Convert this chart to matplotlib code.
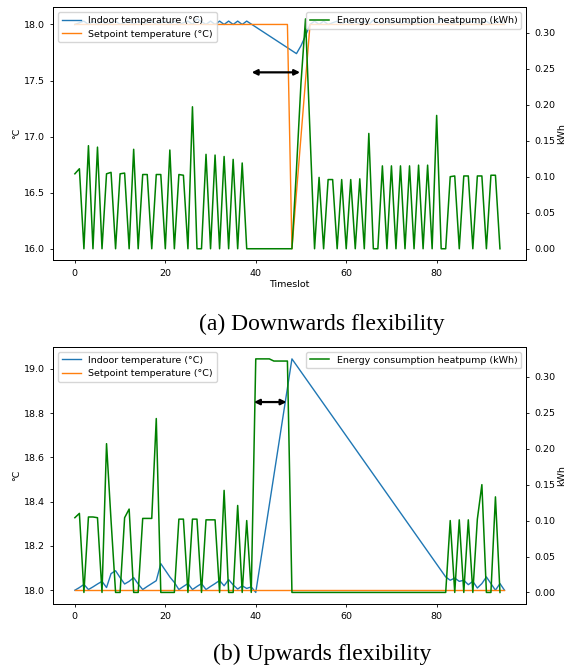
import matplotlib
matplotlib.use("Agg")
import matplotlib.pyplot as plt

# ---- (a) downwards flexibility ----
energy_a = [0.104, 0.111, 0, 0.143, 0, 0.141, 0, 0.104, 0.106, 0,
            0.104, 0.105, 0, 0.138, 0, 0.103, 0.103, 0, 0.103, 0.103,
            0, 0.137, 0, 0.103, 0.102, 0, 0.197, 0, 0, 0.131,
            0, 0.130, 0, 0.128, 0, 0.124, 0, 0.119, 0, 0,
            0, 0, 0, 0, 0, 0, 0, 0, 0, 0.11,
            0.23, 0.319, 0.16, 0, 0.099, 0, 0.096, 0.096, 0, 0.096,
            0, 0.096, 0, 0.097, 0, 0.160, 0, 0, 0.115, 0,
            0.115, 0, 0.115, 0, 0.115, 0, 0.116, 0, 0.116, 0,
            0.185, 0, 0, 0.100, 0.101, 0, 0.101, 0.101, 0, 0.101,
            0.101, 0, 0.102, 0.102, 0]

indoor_a_x = list(range(0, 39)) + [49, 50, 51] + list(range(52, 96))
indoor_a = [18.00, 18.015, 18.03, 18.00, 18.03, 18.00, 18.03, 18.00, 18.015, 18.03,
            18.00, 18.015, 18.03, 18.00, 18.03, 18.00, 18.015, 18.03, 18.00, 18.015,
            18.03, 18.00, 18.03, 18.00, 18.015, 18.03, 18.00, 18.05, 18.025, 18.00,
            18.03, 18.00, 18.03, 18.00, 18.03, 18.00, 18.03, 18.00, 18.03,
            17.74, 17.81, 17.90,
            18.00, 18.03, 18.00, 18.03, 18.00, 18.015, 18.03, 18.00, 18.03, 18.00,
            18.03, 18.00, 18.03, 18.00, 18.04, 18.02, 18.00, 18.03, 18.00, 18.03,
            18.00, 18.03, 18.00, 18.03, 18.00, 18.03, 18.00, 18.03, 18.00, 18.05,
            18.025, 18.00, 18.015, 18.03, 18.00, 18.015, 18.03, 18.00, 18.015, 18.03,
            18.00, 18.015, 18.03, 18.00]

setpoint_a_x = [0, 47, 48, 52, 95]
setpoint_a = [18.0, 18.0, 16.0, 18.0, 18.0]

# ---- (b) upwards flexibility ----
energy_b = [0.104, 0.110, 0, 0.105, 0.105, 0.104, 0, 0.207, 0.10, 0,
            0, 0.104, 0.116, 0, 0, 0.103, 0.103, 0.103, 0.242, 0,
            0, 0, 0, 0.102, 0.102, 0, 0.102, 0.102, 0, 0.101,
            0.101, 0.101, 0, 0.142, 0, 0, 0.121, 0, 0.100, 0,
            0.325, 0.325, 0.325, 0.325, 0.322, 0.322, 0.322, 0.322, 0, 0,
            0, 0, 0, 0, 0, 0, 0, 0, 0, 0,
            0, 0, 0, 0, 0, 0, 0, 0, 0, 0,
            0, 0, 0, 0, 0, 0, 0, 0, 0, 0,
            0, 0, 0, 0.100, 0, 0.101, 0, 0.101, 0, 0.102,
            0.150, 0, 0, 0.133, 0]

indoor_b_x = list(range(0, 41)) + [48] + list(range(82, 96))
indoor_b = [18.000, 18.012, 18.026, 18.003, 18.015, 18.028, 18.040, 18.012, 18.075, 18.088,
            18.057, 18.028, 18.040, 18.057, 18.028, 18.003, 18.017, 18.030, 18.043, 18.120,
            18.090, 18.060, 18.035, 18.003, 18.017, 18.030, 18.003, 18.017, 18.030, 18.003,
            18.017, 18.030, 18.044, 18.020, 18.048, 18.024, 18.005, 18.020, 18.008, 18.015,
            17.990,
            19.045,
            18.060, 18.045, 18.055, 18.040, 18.045, 18.025, 18.040, 18.010, 18.030, 18.060,
            18.030, 18.000, 18.030, 18.000]

setpoint_b_x = [0, 95]
setpoint_b = [18.0, 18.0]

arrow_a = (39.1, 49.8, 17.573)
arrow_b = (39.6, 46.8, 18.85)

plt.rcParams["font.size"] = 6.8
plt.rcParams["axes.linewidth"] = 0.7
plt.rcParams["xtick.major.size"] = 2.5
plt.rcParams["ytick.major.size"] = 2.5
plt.rcParams["xtick.major.width"] = 0.6
plt.rcParams["ytick.major.width"] = 0.6

fig = plt.figure(figsize=(5.68, 6.69), dpi=100)


def draw(rect, indoor_x, indoor, set_x, setpoint, energy, arrow, xlabel):
    ax = fig.add_axes(rect)
    ax.plot(indoor_x, indoor, color="#1f77b4", lw=1.0, label="Indoor temperature (°C)")
    ax.plot(set_x, setpoint, color="#ff7f0e", lw=1.0, label="Setpoint temperature (°C)")
    ax.set_ylabel("°C", labelpad=2)
    if xlabel:
        ax.set_xlabel(xlabel, labelpad=2)
    ax.legend(loc="upper left")
    ax2 = ax.twinx()
    ax2.plot(range(len(energy)), energy, color="green", lw=1.1,
             label="Energy consumption heatpump (kWh)")
    ax2.set_ylabel("kWh", labelpad=1)
    ax2.legend(loc="upper right")
    ax.set_xlim(-4.75, 99.75)
    ax2.annotate("", xy=(arrow[1], arrow[2]), xytext=(arrow[0], arrow[2]),
                 xycoords=ax.transData, textcoords=ax.transData,
                 arrowprops=dict(arrowstyle="<|-|>", color="black", lw=1.6,
                                 mutation_scale=8, shrinkA=0, shrinkB=0))
    return ax, ax2


draw([0.094, 0.611, 0.832, 0.378], indoor_a_x, indoor_a, setpoint_a_x, setpoint_a,
     energy_a, arrow_a, "Timeslot")
draw([0.094, 0.097, 0.832, 0.384], indoor_b_x, indoor_b, setpoint_b_x, setpoint_b,
     energy_b, arrow_b, None)

fig.text(0.567, 0.515, "(a) Downwards flexibility", family="Liberation Serif",
         fontsize=17, ha="center", va="center")
fig.text(0.567, 0.022, "(b) Upwards flexibility", family="Liberation Serif",
         fontsize=17, ha="center", va="center")

fig.savefig("out.png", dpi=100)
